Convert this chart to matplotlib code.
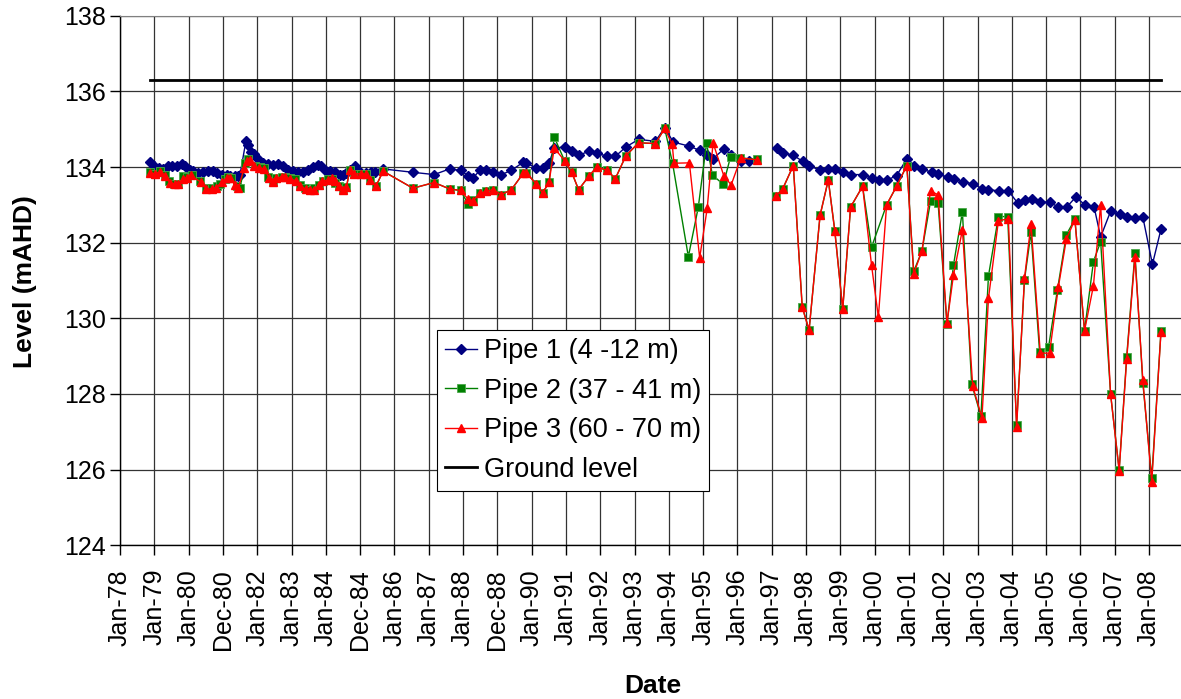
import matplotlib
matplotlib.use("Agg")
import matplotlib.pyplot as plt
import numpy as np

plt.rcParams["font.family"] = ["Liberation Sans", "DejaVu Sans"]

nan = np.nan

# x values are decimal years
p1_year = [1978.87, 1978.99, 1979.14, 1979.26, 1979.41, 1979.53, 1979.65, 1979.80, 1979.89,
           1980.04, 1980.14, 1980.28, 1980.43, 1980.57, 1980.72, 1980.83, 1980.96, 1981.11,
           1981.20, 1981.35, 1981.45, 1981.50, 1981.67, 1981.74, 1981.83, 1981.91, 1982.03,
           1982.17, 1982.32, 1982.47, 1982.61, 1982.76, 1982.90, 1983.05, 1983.19, 1983.34,
           1983.49, 1983.63, 1983.76, 1983.87, 1984.02, 1984.12, 1984.26, 1984.41, 1984.50,
           1984.60, 1984.72, 1984.84, 1984.94, 1985.04, 1985.18, 1985.33, 1985.43, 1985.67,
           1986.54, 1987.16, 1987.61, 1987.93, 1988.15, 1988.29, 1988.49, 1988.68, 1988.87,
           1989.12, 1989.41, 1989.76, 1989.85, 1990.13, 1990.34, 1990.51, 1990.66, 1990.98,
           1991.17, 1991.37, 1991.68, 1991.90, 1992.21, 1992.44, 1992.75, 1993.12, 1993.61,
           1993.88, 1994.13, 1994.60, 1994.90, 1995.12, 1995.29, 1995.61, 1995.82, 1996.10,
           1996.34, 1996.70,
           1997.14, 1997.34, 1997.63, 1997.90, 1998.09, 1998.41, 1998.65, 1998.84, 1999.07,
           1999.30, 1999.65, 1999.91, 2000.14, 2000.35, 2000.64, 2000.94, 2001.16, 2001.38,
           2001.66, 2001.85, 2002.13, 2002.32, 2002.58, 2002.86, 2003.13, 2003.32, 2003.63,
           2003.90, 2004.17, 2004.39, 2004.58, 2004.83, 2005.10, 2005.36, 2005.60, 2005.86,
           2006.14, 2006.40, 2006.59, 2006.88, 2007.14, 2007.37, 2007.59, 2007.82, 2008.10,
           2008.35]
p1_level = [134.12, 134.04, 133.97, 133.95, 134.02, 134.04, 134.02, 134.08, 134.02,
            133.93, 133.89, 133.84, 133.86, 133.90, 133.89, 133.84, 133.80, 133.78,
            133.77, 133.75, 133.77, 133.80, 134.68, 134.57, 134.41, 134.34, 134.21,
            134.11, 134.08, 134.06, 134.08, 134.04, 133.93, 133.89, 133.86, 133.86,
            133.93, 134.00, 134.06, 134.02, 133.89, 133.89, 133.87, 133.80, 133.80,
            133.84, 133.93, 134.02, 133.89, 133.84, 133.84, 133.86, 133.87, 133.95,
            133.86, 133.80, 133.95, 133.91, 133.77, 133.71, 133.91, 133.91, 133.87,
            133.80, 133.91, 134.13, 134.11, 133.97, 133.97, 134.11, 134.50, 134.53,
            134.42, 134.31, 134.42, 134.37, 134.28, 134.28, 134.53, 134.73, 134.68,
            135.04, 134.66, 134.55, 134.44, 134.33, 134.22, 134.48, 134.33, 134.15,
            134.17, nan,
            134.50, 134.37, 134.31, 134.15, 134.04, 133.91, 133.95, 133.95, 133.86,
            133.80, 133.80, 133.71, 133.65, 133.65, 133.77, 134.22, 134.04, 133.95,
            133.86, 133.82, 133.73, 133.68, 133.60, 133.56, 133.43, 133.40, 133.37,
            133.37, 133.05, 133.14, 133.15, 133.07, 133.07, 132.94, 132.94, 133.20,
            133.00, 132.94, 132.15, 132.83, 132.76, 132.67, 132.65, 132.68, 131.43,
            132.36]

p2_year = [1978.87, 1979.02, 1979.17, 1979.31, 1979.44, 1979.58, 1979.70, 1979.83, 1979.94,
           1980.09, 1980.33, 1980.50, 1980.67, 1980.82, 1980.93, 1981.06, 1981.16, 1981.25,
           1981.40, 1981.50, 1981.64, 1981.74, 1981.93, 1982.08, 1982.20, 1982.32, 1982.45,
           1982.56, 1982.71, 1982.81, 1982.95, 1983.10, 1983.24, 1983.39, 1983.53, 1983.66,
           1983.80, 1983.92, 1984.07, 1984.17, 1984.26, 1984.39, 1984.50, 1984.60, 1984.70,
           1984.82, 1985.04, 1985.17, 1985.30, 1985.46, 1985.67, 1986.54, 1987.16, 1987.61,
           1987.93, 1988.15, 1988.28, 1988.49, 1988.68, 1988.87, 1989.12, 1989.41, 1989.76,
           1989.85, 1990.13, 1990.32, 1990.51, 1990.66, 1990.96, 1991.17, 1991.37, 1991.68,
           1991.90, 1992.21, 1992.44, 1992.75, 1993.12, 1993.61, 1993.88, 1994.11, 1994.57,
           1994.86, 1995.10, 1995.27, 1995.59, 1995.80, 1996.08, 1996.56, 1996.80,
           1997.13, 1997.32, 1997.63, 1997.89, 1998.09, 1998.41, 1998.65, 1998.84, 1999.07,
           1999.30, 1999.65, 1999.91, 2000.35, 2000.64, 2000.94, 2001.14, 2001.38, 2001.63,
           2001.85, 2002.11, 2002.30, 2002.56, 2002.83, 2003.10, 2003.32, 2003.61, 2003.88,
           2004.14, 2004.37, 2004.56, 2004.81, 2005.07, 2005.33, 2005.59, 2005.84, 2006.12,
           2006.38, 2006.59, 2006.88, 2007.13, 2007.35, 2007.59, 2007.82, 2008.08, 2008.35]
p2_level = [133.86, 133.82, 133.89, 133.80, 133.62, 133.56, 133.56, 133.75, 133.74,
            133.80, 133.62, 133.44, 133.44, 133.49, 133.56, 133.67, 133.74, 133.71,
            133.49, 133.44, 134.10, 134.20, 134.02, 133.99, 133.97, 133.74, 133.62,
            133.71, 133.74, 133.74, 133.71, 133.67, 133.53, 133.44, 133.40, 133.44,
            133.53, 133.62, 133.67, 133.68, 133.58, 133.49, 133.43, 133.46, 133.93,
            133.82, 133.82, 133.81, 133.65, 133.49, 133.89, 133.44, 133.59, 133.42,
            133.38, 133.02, 133.12, 133.30, 133.36, 133.40, 133.27, 133.40, 133.84,
            133.84, 133.56, 133.31, 133.60, 134.79, 134.17, 133.86, 133.40, 133.77,
            134.00, 133.91, 133.69, 134.30, 134.64, 134.62, 135.02, 134.10, 131.63,
            132.94, 134.63, 133.79, 133.54, 134.27, 134.24, 134.20, nan,
            133.24, 133.42, 134.04, 130.31, 129.69, 132.72, 133.66, 132.32, 130.24,
            132.94, 133.49, 131.88, 133.00, 133.49, 134.04, 131.24, 131.78, 133.09,
            133.06, 129.84, 131.41, 132.81, 128.26, 127.42, 131.12, 132.69, 132.69,
            127.18, 131.02, 132.27, 129.12, 129.23, 130.75, 132.21, 132.62, 129.67,
            131.50, 132.03, 128.00, 125.99, 128.99, 131.72, 128.30, 125.78, 129.67]

p3_year = [1978.87, 1979.02, 1979.17, 1979.31, 1979.46, 1979.60, 1979.70, 1979.83, 1979.94,
           1980.06, 1980.36, 1980.52, 1980.67, 1980.80, 1980.96, 1981.11, 1981.20, 1981.35,
           1981.45, 1981.62, 1981.69, 1981.79, 1981.92, 1982.05, 1982.21, 1982.34, 1982.45,
           1982.56, 1982.71, 1982.81, 1982.97, 1983.12, 1983.26, 1983.41, 1983.53, 1983.66,
           1983.80, 1983.90, 1984.07, 1984.17, 1984.26, 1984.39, 1984.50, 1984.60, 1984.70,
           1984.82, 1985.04, 1985.17, 1985.30, 1985.46, 1985.67, 1986.54, 1987.16, 1987.61,
           1987.93, 1988.15, 1988.28, 1988.49, 1988.68, 1988.87, 1989.12, 1989.41, 1989.76,
           1989.85, 1990.13, 1990.32, 1990.51, 1990.66, 1990.96, 1991.17, 1991.37, 1991.68,
           1991.90, 1992.21, 1992.44, 1992.75, 1993.12, 1993.61, 1993.88, 1994.10, 1994.15,
           1994.60, 1994.90, 1995.12, 1995.29, 1995.61, 1995.82, 1996.10, 1996.56, 1996.80,
           1997.13, 1997.32, 1997.63, 1997.89, 1998.09, 1998.41, 1998.65, 1998.84, 1999.07,
           1999.30, 1999.65, 1999.91, 2000.11, 2000.35, 2000.64, 2000.94, 2001.14, 2001.38,
           2001.63, 2001.85, 2002.11, 2002.30, 2002.56, 2002.86, 2003.13, 2003.32, 2003.61,
           2003.90, 2004.14, 2004.37, 2004.56, 2004.83, 2005.10, 2005.36, 2005.59, 2005.84,
           2006.12, 2006.38, 2006.59, 2006.88, 2007.13, 2007.35, 2007.59, 2007.82, 2008.08,
           2008.35]
p3_level = [133.84, 133.82, 133.87, 133.77, 133.58, 133.55, 133.55, 133.67, 133.72,
            133.78, 133.60, 133.42, 133.42, 133.45, 133.60, 133.70, 133.72, 133.52,
            133.44, 133.98, 134.15, 134.19, 134.02, 133.98, 133.95, 133.72, 133.60,
            133.70, 133.74, 133.74, 133.68, 133.64, 133.50, 133.42, 133.40, 133.40,
            133.52, 133.62, 133.66, 133.72, 133.62, 133.49, 133.40, 133.46, 133.93,
            133.82, 133.82, 133.81, 133.65, 133.49, 133.89, 133.44, 133.59, 133.42,
            133.38, 133.15, 133.10, 133.30, 133.36, 133.40, 133.27, 133.40, 133.84,
            133.84, 133.56, 133.31, 133.60, 134.50, 134.17, 133.86, 133.40, 133.77,
            134.00, 133.91, 133.69, 134.30, 134.64, 134.62, 135.02, 134.60, 134.10,
            134.11, 131.60, 132.91, 134.64, 133.75, 133.53, 134.24, 134.19, nan,
            133.24, 133.42, 134.04, 130.29, 129.69, 132.72, 133.66, 132.30, 130.24,
            132.94, 133.49, 131.41, 130.03, 133.00, 133.49, 134.04, 131.18, 131.78,
            133.36, 133.27, 129.87, 131.15, 132.34, 128.21, 127.37, 130.53, 132.58,
            132.63, 127.12, 131.06, 132.50, 129.08, 129.08, 130.84, 132.09, 132.61,
            129.67, 130.86, 133.00, 128.00, 125.97, 128.93, 131.62, 128.37, 125.68,
            129.65]

ground_year = [1978.87, 2008.35]
ground_level = [136.30, 136.30]

x_labels = ["Jan-78", "Jan-79", "Jan-80", "Dec-80", "Jan-82", "Jan-83", "Jan-84", "Dec-84",
            "Jan-86", "Jan-87", "Jan-88", "Dec-88", "Jan-90", "Jan-91", "Jan-92", "Jan-93",
            "Jan-94", "Jan-95", "Jan-96", "Jan-97", "Jan-98", "Jan-99", "Jan-00", "Jan-01",
            "Jan-02", "Jan-03", "Jan-04", "Jan-05", "Jan-06", "Jan-07", "Jan-08"]
x_start = 1978.0
y_ticks = [124, 126, 128, 130, 132, 134, 136, 138]

W, H = 1181, 699
fig = plt.figure(figsize=(W / 100, H / 100), dpi=100)
left, top, bottom = 120, 15.7, 545.3
ax = fig.add_axes([left / W, 1 - bottom / H, 1 - left / W, (bottom - top) / H])

ax.plot(p1_year, p1_level, color="#000080", lw=1.0, marker="D", ms=5,
        mfc="#000080", mec="#000080", label="Pipe 1 (4 -12 m)", zorder=3)
ax.plot(p2_year, p2_level, color="#008000", lw=1.0, marker="s", ms=5.5,
        mfc="#008000", mec="#4aa84a", mew=0.6, label="Pipe 2 (37 - 41 m)", zorder=4)
ax.plot(p3_year, p3_level, color="#FF0000", lw=1.0, marker="^", ms=5.5,
        mfc="#FF0000", mec="#FF0000", label="Pipe 3 (60 - 70 m)", zorder=5)
ax.plot(ground_year, ground_level, color="black", lw=2.0, label="Ground level", zorder=6)

ax.set_xlim(x_start, x_start + (W - left) / 34.3)
ax.set_ylim(124, 138)
ax.set_xticks([x_start + i for i in range(len(x_labels))])
ax.set_xticklabels(x_labels, rotation=90, fontsize=18, va="top")
ax.set_yticks(y_ticks)
ax.set_yticklabels([str(v) for v in y_ticks], fontsize=18)
ax.tick_params(axis="x", direction="out", length=7, width=1, pad=10)
ax.tick_params(axis="y", direction="out", length=7, width=1, pad=3)
ax.grid(True, color="#333333", lw=0.9)
ax.set_axisbelow(True)
for s in ["left", "bottom"]:
    ax.spines[s].set_color("black")
    ax.spines[s].set_linewidth(1)
ax.spines["top"].set_color("#808080")
ax.spines["right"].set_visible(False)

fig.text(653 / W, 1 - 686 / H, "Date", fontsize=19, fontweight="bold",
         ha="center", va="center")
fig.text(25 / W, 1 - 282 / H, "Level (mAHD)", fontsize=19, fontweight="bold",
         ha="center", va="center", rotation=90)

leg = ax.legend(loc="upper left", bbox_to_anchor=(436.7 / W, 1 - 330 / H),
                bbox_transform=fig.transFigure, borderaxespad=0, fontsize=19.5,
                frameon=True, fancybox=False, framealpha=1, edgecolor="black",
                handlelength=1.2, handletextpad=0.25, labelspacing=0.5, borderpad=0.3)
leg.get_frame().set_linewidth(0.8)

fig.savefig("out.png", dpi=100)
